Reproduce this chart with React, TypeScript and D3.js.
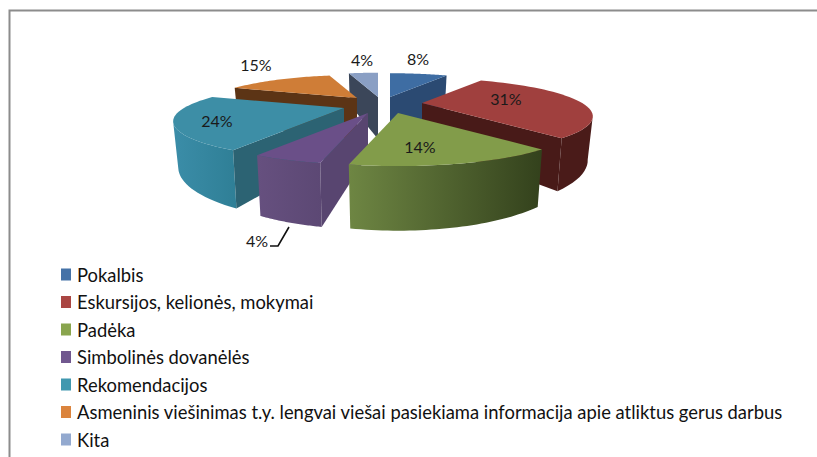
import React from "react";
import * as d3 from "d3";

const categories = [
  "Pokalbis",
  "Eskursijos, kelionės, mokymai",
  "Padėka",
  "Simbolinės dovanėlės",
  "Rekomendacijos",
  "Asmeninis viešinimas t.y. lengvai viešai pasiekiama informacija apie atliktus gerus darbus",
  "Kita",
];
const shares = [8, 31, 14, 4, 24, 15, 4];

const topColors = ["#3e6da3", "#a0403e", "#829c4a", "#6a4f88", "#3d8ea6", "#cf7d37", "#8a9fc4"];
const legendColors = ["#4572a7", "#aa4643", "#89a54e", "#71588f", "#4198af", "#db843d", "#93a9cf"];
const cutColors = ["#2b4a72", "#481a18", "#5a6d34", "#584570", "#2c6373", "#5c3415", "#3b4659"];
const wallLeft = ["#2b4a72", "#4a1b19", "#6e8643", "#66507f", "#3b8da8", "#8a5526", "#5d6f8c"];
const wallRight = ["#2b4a72", "#4a1b19", "#33411c", "#5c4874", "#2f7f96", "#8a5526", "#5d6f8c"];

// layout
const tips = [[390, 97], [422, 103], [398, 113], [368, 113], [344, 108], [357, 98], [378, 97]];
const radiusScale = [0.93, 0.97, 1, 0.97, 0.97, 0.9, 0.95];
const depthScale = [1, 0.92, 1, 1, 0.96, 1, 1];
// the labels are rounded, so the true boundaries sit slightly off the rounded shares (degrees)
const boundaryNudge = [0, 0, 0, 0.5, 3.5, 0, 0, 0];
const labelPos = [[418, 58], [506, 98], [420, 146], [257, 240], [217, 120], [256, 64], [362, 59]];
const paintOrder = [6, 0, 5, 4, 1, 3, 2];
const A = 165, B = 34.5, P = 0.35, H = 42, BOTTOM_SCALE = 0.97;

const pie = d3.pie<number>().sort(null).startAngle(0).endAngle(2 * Math.PI);
const nudge = (k: number) => (boundaryNudge[k] * Math.PI) / 180;
const arcs = pie(shares).map((a, k) => ({
  ...a,
  startAngle: a.startAngle + nudge(k),
  endAngle: a.endAngle + nudge(k + 1),
}));
const lineGen = d3.line<number[]>().x((d) => d[0]).y((d) => d[1]);
const poly = (pts: number[][]) => lineGen(pts) + "Z";

function project(i: number, theta: number, bottom: boolean): number[] {
  const r = radiusScale[i];
  const w = 1 / (1 + P * Math.cos(theta));
  const s = bottom ? BOTTOM_SCALE : 1;
  const dx = A * r * Math.sin(theta) * w * s;
  const dy = -B * r * Math.cos(theta) * w + (bottom ? H * depthScale[i] * w : 0);
  return [tips[i][0] + dx, tips[i][1] + dy];
}
const tipBottom = (i: number) => [tips[i][0], tips[i][1] + H * depthScale[i]];

function cutVisible(i: number, theta: number, mid: number): boolean {
  const t = tips[i];
  const c = project(i, theta, false);
  const m = project(i, mid, false);
  const ex = c[0] - t[0], ey = c[1] - t[1];
  const cross = ex * (m[1] - t[1]) - ey * (m[0] - t[0]);
  return cross * ex < 0;
}

export default function App() {
  const faces = paintOrder.map((i) => {
    const a = arcs[i];
    const samples = d3.range(0, 41).map((k) => a.startAngle + ((a.endAngle - a.startAngle) * k) / 40);
    const top = samples.map((t) => project(i, t, false));
    const mid = (a.startAngle + a.endAngle) / 2;
    const front = samples.filter((t, k) => {
      const cur = project(i, t, false)[0];
      const other = k < 40 ? project(i, samples[k + 1], false)[0] : project(i, samples[k - 1], false)[0];
      return k < 40 ? other < cur : cur < other;
    });
    const wall =
      front.length > 1
        ? [...front.map((t) => project(i, t, false)), ...[...front].reverse().map((t) => project(i, t, true))]
        : null;
    const cuts = [a.startAngle, a.endAngle]
      .filter((t) => cutVisible(i, t, mid))
      .map((t) => [tips[i], project(i, t, false), project(i, t, true), tipBottom(i)]);
    const xs = wall ? wall.map((p) => p[0]) : [0, 1];
    return { i, top: [tips[i], ...top], wall, cuts, x0: d3.min(xs), x1: d3.max(xs) };
  });

  const font = "Lato, 'Open Sans', sans-serif";
  return (
    <svg width={817} height={457} style={{ position: "absolute", left: 0, top: 0, background: "#fff" }}>
      <defs>
        {faces.map((f) => (
          <linearGradient key={f.i} id={`wall${f.i}`} gradientUnits="userSpaceOnUse" x1={f.x0} x2={f.x1} y1={0} y2={0}>
            <stop offset="0" stopColor={wallLeft[f.i]} />
            <stop offset="1" stopColor={wallRight[f.i]} />
          </linearGradient>
        ))}
      </defs>
      <path d="M9.5,457V10.5H817" fill="none" stroke="#8c8c8c" strokeWidth={2} />
      {faces.map((f) => (
        <g key={f.i}>
          {f.wall && <path d={poly(f.wall)} fill={`url(#wall${f.i})`} />}
          {f.cuts.map((c, k) => (
            <path key={k} d={poly(c)} fill={cutColors[f.i]} />
          ))}
          <path d={poly(f.top)} fill={topColors[f.i]} />
        </g>
      ))}
      <path d="M289,227L278,246H270" fill="none" stroke="#111" strokeWidth={1.6} />
      {shares.map((v, i) => (
        <text key={i} x={labelPos[i][0]} y={labelPos[i][1]} textAnchor="middle" dominantBaseline="central"
          fontFamily={font} fontSize={16} fill="#1a1a1a">{`${v}%`}</text>
      ))}
      {categories.map((c, i) => {
        const y = 274.5 + i * 27.5;
        return (
          <g key={c}>
            <rect x={61} y={y - 6} width={10} height={12} fill={legendColors[i]} />
            <text x={77} y={y} dominantBaseline="central" fontFamily={font} fontSize={18.4} fill="#111">{c}</text>
          </g>
        );
      })}
    </svg>
  );
}
